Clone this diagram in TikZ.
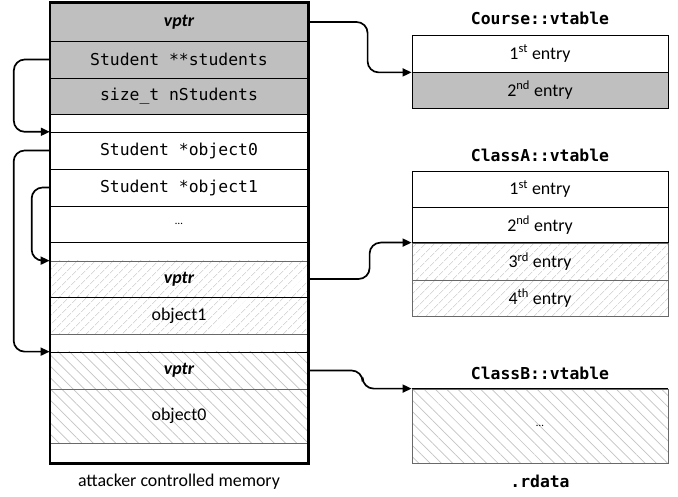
\documentclass[tikz,border=0pt]{standalone}
\usepackage{fontspec}
\setmainfont{Carlito}
\setmonofont{DejaVu Sans Mono}
\usetikzlibrary{arrows.meta,patterns.meta,calc}
\definecolor{fillg}{RGB}{191,191,191}
\definecolor{hatchc}{RGB}{195,195,195}
\definecolor{lineg}{RGB}{105,105,105}
\begin{document}
\begin{tikzpicture}[x=1pt,y=-1pt,
  mem/.style={rectangle, minimum width=258pt, inner sep=0pt, font=\fontsize{17.9}{20}\selectfont},
  vcell/.style={rectangle, draw=black, line width=0.8pt, minimum width=256pt, inner sep=0pt, font=\fontsize{17.9}{20}\selectfont},
  code/.style={font=\fontsize{16.4}{19}\selectfont\ttfamily},
  vptrtxt/.style={font=\fontsize{17.9}{20}\selectfont\bfseries\itshape},
  gfill/.style={fill=fillg},
  hatchA/.style={pattern={Lines[angle=45,distance=6.5pt,line width=0.7pt]}, pattern color=hatchc},
  hatchB/.style={pattern={Lines[angle=-45,distance=8pt,line width=0.7pt]}, pattern color=hatchc},
  title/.style={font=\fontsize{16.4}{19}\selectfont\ttfamily\bfseries, inner sep=0pt},
  caption/.style={font=\fontsize{17.9}{20}\selectfont, inner sep=0pt},
  sepk/.style={draw=black, line width=0.8pt},
  sepg/.style={draw=lineg, line width=1.2pt},
  arr/.style={line width=1.7pt, -{Triangle[length=9pt,width=8pt]}, rounded corners=11pt},
  dots/.style={font=\fontsize{11}{13}\selectfont}
]
\useasboundingbox (0,0) rectangle (678,497);

% ---------- left memory column ----------
\node[mem, gfill, minimum height=38pt, vptrtxt] (r1) at (179,22) {vptr};
\node[mem, gfill, minimum height=37pt, code] (r2) at (179,59.5) {Student **students};
\node[mem, gfill, minimum height=36pt, code] (r3) at (179,96) {size\_t nStudents};
\node[mem, minimum height=18pt] (r4) at (179,123) {};
\node[mem, minimum height=37pt, code] (r5) at (179,150.5) {Student *object0};
\node[mem, minimum height=37pt, code] (r6) at (179,187.5) {Student *object1};
\node[mem, minimum height=36pt, dots] (r7) at (179,224) {…};
\node[mem, minimum height=19pt] (r8) at (179,251.5) {};
\node[mem, hatchA, minimum height=36pt, vptrtxt] (r9) at (179,279) {vptr};
\node[mem, hatchA, minimum height=37pt] (r10) at (179,315.5) {object1};
\node[mem, minimum height=18pt] (r11) at (179,343) {};
\node[mem, hatchB, minimum height=37pt, vptrtxt] (r12) at (179,370.5) {vptr};
\node[mem, hatchB, minimum height=54pt] (r13) at (179,416) {object0};
\node[mem, minimum height=20pt] (r14) at (179,453) {};

\draw[sepk] (r1.south west) -- (r1.south east);
\draw[sepk] (r2.south west) -- (r2.south east);
\draw[sepk] (r3.south west) -- (r3.south east);
\draw[sepk] (r4.south west) -- (r4.south east);
\draw[sepk] (r5.south west) -- (r5.south east);
\draw[sepk] (r6.south west) -- (r6.south east);
\draw[sepk] (r7.south west) -- (r7.south east);
\draw[sepg] (r8.south west) -- (r8.south east);
\draw[sepk] (r9.south west) -- (r9.south east);
\draw[sepg] (r10.south west) -- (r10.south east);
\draw[sepk] (r11.south west) -- (r11.south east);
\draw[sepg] (r12.south west) -- (r12.south east);
\draw[sepg] (r13.south west) -- (r13.south east);
\draw[line width=2.6pt] (r1.north west) rectangle (r14.south east);

\node[caption] (cap1) at (179,482) {attacker controlled memory};

% ---------- right: vtables ----------
\node[title] (tc) at (540,18) {Course::vtable};
\node[vcell, minimum height=37pt] (c1) at (540,53.5) {1\textsuperscript{st} entry};
\node[vcell, gfill, minimum height=36pt] (c2) at (540,90) {2\textsuperscript{nd} entry};

\node[title] (ta) at (540,155) {ClassA::vtable};
\node[vcell, minimum height=36pt] (a1) at (540,189) {1\textsuperscript{st} entry};
\node[vcell, minimum height=36pt] (a2) at (540,225) {2\textsuperscript{nd} entry};
\node[vcell, draw=lineg, hatchA, minimum height=37pt] (a3) at (540,261.5) {3\textsuperscript{rd} entry};
\node[vcell, draw=lineg, hatchA, minimum height=36pt] (a4) at (540,298) {4\textsuperscript{th} entry};
\draw[sepk] (a3.north west) -- (a3.north east);

\node[title] (tb) at (540,373) {ClassB::vtable};
\node[vcell, draw=lineg, hatchB, minimum height=74pt, dots] (b1) at (540,426) {…};
\draw[sepk] (b1.north west) -- (b1.north east);

\node[title] (rd) at (540,481) {.rdata};

% ---------- pointers ----------
\draw[arr] (r1.east) -| ([xshift=-44pt]c1.south west) -- (c1.south west);
\draw[arr] (r9.east) -| ([xshift=-42pt]a3.north west) -- (a3.north west);
\draw[arr] (r12.east) -| ([xshift=-49pt]b1.north west) -- (b1.north west);

\draw[arr] (r2.west) -| ([xshift=-36pt]r5.north west) -- (r5.north west);
\draw[arr] (r5.west) -| ([xshift=-36pt]r12.north west) -- (r12.north west);
\draw[arr] (r6.west) -| ([xshift=-18pt]r9.north west) -- (r9.north west);
\end{tikzpicture}
\end{document}
